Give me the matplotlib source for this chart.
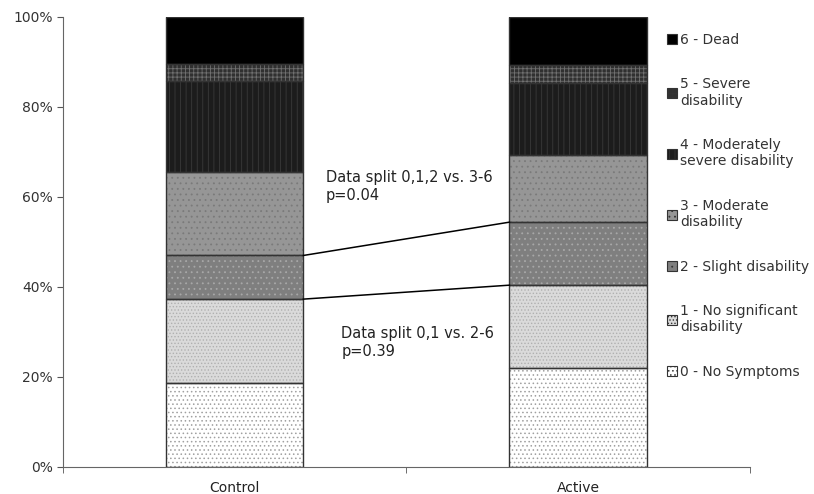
import matplotlib
matplotlib.use('Agg')
import matplotlib.pyplot as plt
import numpy as np
from matplotlib.patches import Patch

groups = ['Control', 'Active']
labels = ['0 - No Symptoms', '1 - No significant\ndisability', '2 - Slight disability',
          '3 - Moderate\ndisability', '4 - Moderately\nsevere disability',
          '5 - Severe\ndisability', '6 - Dead']
control = [18.6, 18.7, 9.7, 18.5, 20.3, 3.7, 10.5]
active = [22.0, 18.4, 14.0, 14.9, 16.1, 3.9, 10.7]
notes = ['Data split 0,1,2 vs. 3-6\np=0.04', 'Data split 0,1 vs. 2-6\np=0.39']

faces = ['#ffffff', '#dadada', '#7f7f7f', '#969696', '#1c1c1c', '#303030', '#000000']
hatchc = ['#a0a0a0', '#b0b0b0', '#a8a8a8', '#7a7a7a', '#3a3a3a', '#707070', '#000000']
hatches = ['....', '.....', '...', '...', '|||', '++++', '']

plt.rcParams['font.family'] = 'DejaVu Sans'
plt.rcParams['hatch.linewidth'] = 0.6
fig = plt.figure(figsize=(8.14, 4.94), dpi=100)
ax = fig.add_axes([0.0774, 0.0547, 0.8437, 0.911])

data = np.array([control, active])
x = np.arange(len(groups))
w = 0.4
bottom = np.zeros(len(groups))
for i in range(len(labels)):
    ax.bar(x, data[:, i], w, bottom=bottom, color=faces[i], hatch=hatches[i],
           edgecolor=hatchc[i], linewidth=0, zorder=2)
    ax.bar(x, data[:, i], w, bottom=bottom, color='none', edgecolor='#333333',
           linewidth=1.0, zorder=3)
    bottom += data[:, i]

cum = np.cumsum(data, axis=1)
for k in [1, 2]:
    ax.plot([x[0] + w / 2, x[1] - w / 2], [cum[0, k], cum[1, k]], color='black', lw=1.1, zorder=4)

ax.text(0.265, 66.0, notes[0], fontsize=10.5, color='#222222', va='top', linespacing=1.25)
ax.text(0.31, 31.3, notes[1], fontsize=10.5, color='#222222', va='top', linespacing=1.25)

ax.set_xlim(-0.5, 1.5)
ax.set_ylim(0, 100)
ax.set_xticks(x)
ax.set_xticklabels(groups, fontsize=10, color='#222222')
ax.tick_params(axis='x', length=0, pad=10)
ax.set_xticks([-0.5, 0.5, 1.5], minor=True)
ax.tick_params(axis='x', which='minor', length=4, color='#555555')
ax.set_yticks(np.arange(0, 101, 20))
ax.set_yticklabels([f'{v}%' for v in range(0, 101, 20)], fontsize=10, color='#333333')
ax.tick_params(axis='y', length=4, color='#555555')
for s in ['top', 'right']:
    ax.spines[s].set_visible(False)
for s in ['left', 'bottom']:
    ax.spines[s].set_color('#666666')

handles = [Patch(facecolor=faces[i], edgecolor='#333333', hatch=hatches[i], linewidth=0.8)
           for i in range(len(labels))][::-1]
leg = fig.legend(handles, labels[::-1], loc='upper left', bbox_to_anchor=(0.806, 0.956),
                 frameon=False, fontsize=10, handlelength=0.7, handleheight=0.7,
                 handletextpad=0.25, labelspacing=2.2, borderpad=0.3)
for t in leg.get_texts():
    t.set_color('#333333')

fig.savefig('out.png', dpi=100)
